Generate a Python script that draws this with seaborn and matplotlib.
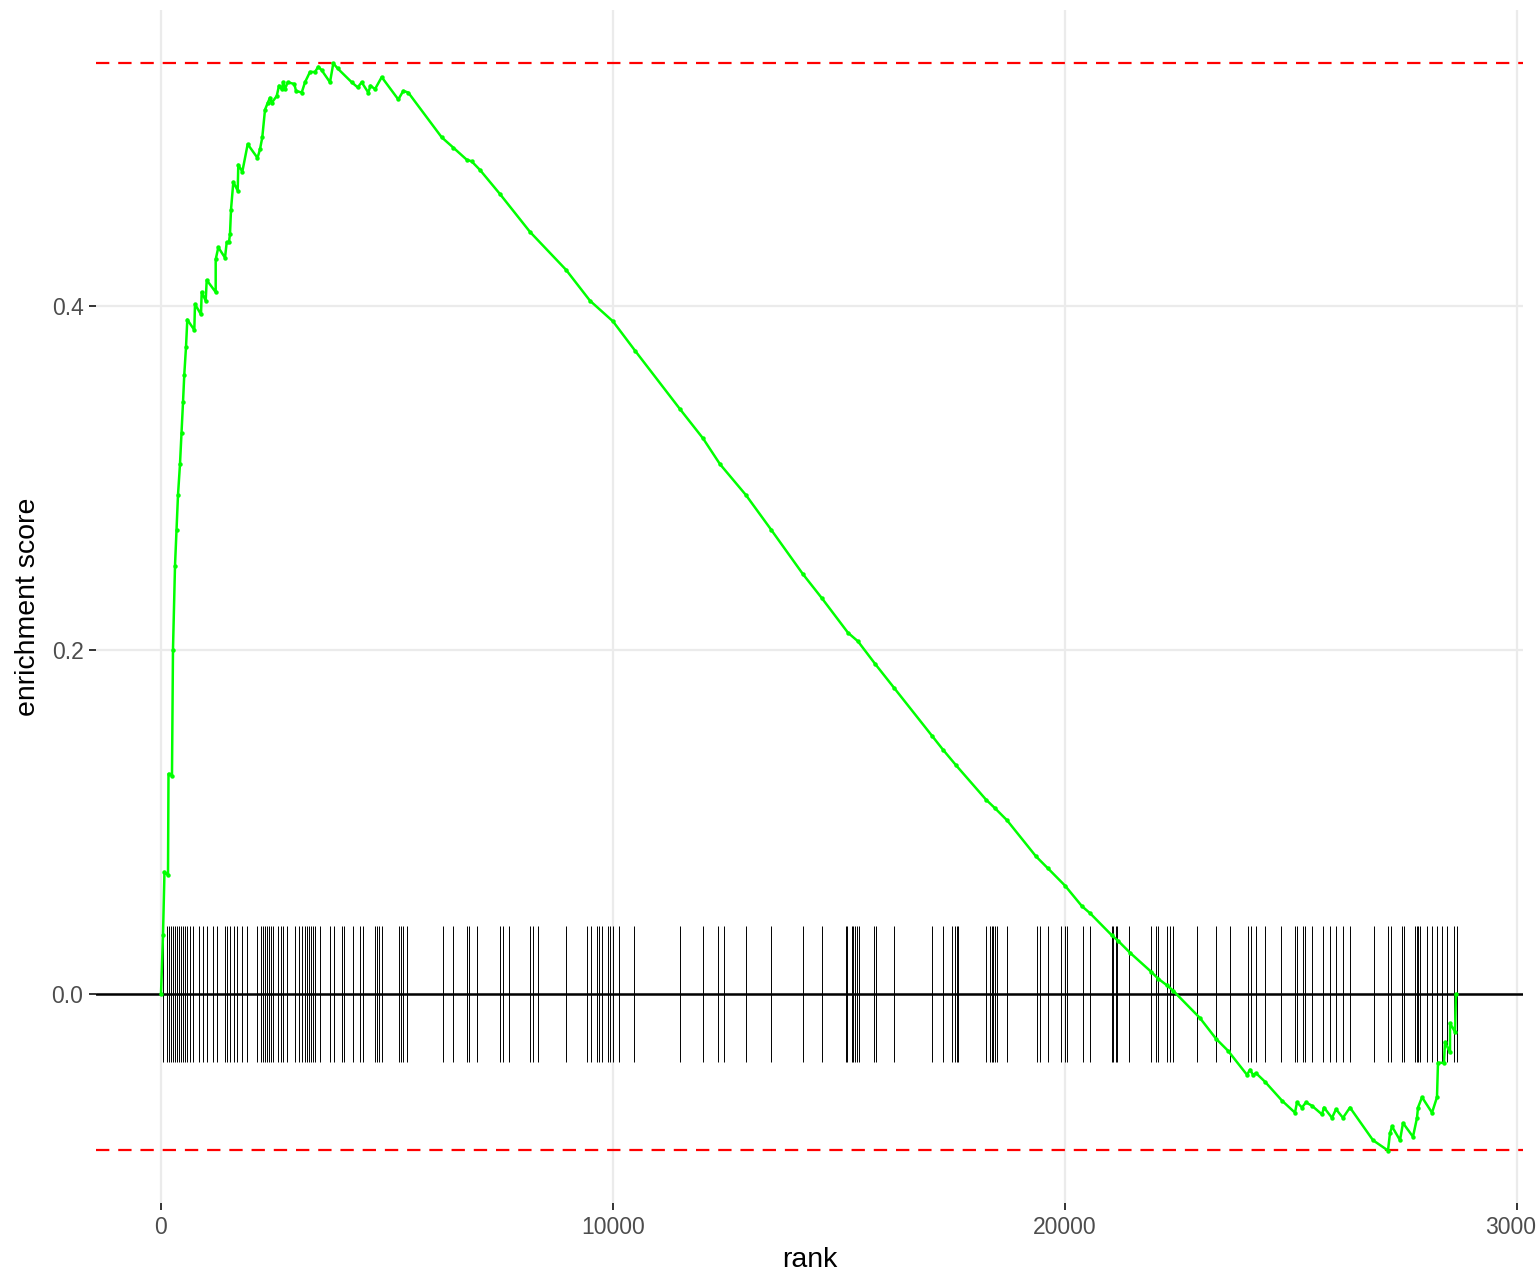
import numpy as np
import pandas as pd
import matplotlib
matplotlib.use("Agg")
import matplotlib.pyplot as plt
import seaborn as sns

# ---- data ----
curve_rank = [0, 44, 77, 155, 166, 243, 265, 310, 343, 376, 420, 454, 487, 515, 553, 582,
              737, 752, 885, 900, 989, 1011, 1210, 1210, 1268, 1416, 1454, 1504, 1527,
              1549, 1600, 1697, 1710, 1799, 1918, 2135, 2190, 2241, 2301, 2361, 2412,
              2449, 2560, 2611, 2670, 2706, 2743, 2803, 2949, 2987, 3113, 3186, 3296,
              3407, 3480, 3555, 3739, 3812, 3909, 4219, 4352, 4440, 4586, 4635, 4735,
              4883, 5250, 5361, 5471, 6210, 6467, 6763, 6874, 7058, 7500, 8164, 8960,
              9491, 10000, 10487, 11482, 11991, 12367, 12942, 13496, 14204, 14624,
              15199, 15420, 15796, 16217, 17058, 17301, 17588, 18252, 18451, 18717,
              19358, 19624, 20000, 20376, 20553, 21040, 21172, 21438, 21903, 22058,
              22257, 22390, 22987, 23341, 23607, 24027, 24093, 24160, 24226, 24425,
              24801, 25088, 25133, 25243, 25332, 25465, 25686, 25730, 25907, 25996,
              26150, 26305, 26814, 27146, 27190, 27235, 27412, 27478, 27699, 27788,
              27810, 27899, 28120, 28230, 28252, 28385, 28407, 28518, 28518, 28628,
              28650]
curve_es = [0.000, 0.034, 0.071, 0.069, 0.128, 0.127, 0.200, 0.249, 0.270, 0.290,
            0.308, 0.326, 0.344, 0.360, 0.376, 0.392, 0.386, 0.401, 0.395, 0.408, 0.403,
            0.415, 0.408, 0.427, 0.434, 0.428, 0.437, 0.437, 0.442, 0.456, 0.472,
            0.467, 0.482, 0.478, 0.494, 0.486, 0.491, 0.498, 0.514, 0.518, 0.521,
            0.518, 0.522, 0.528, 0.526, 0.530, 0.526, 0.530, 0.529, 0.525, 0.524,
            0.530, 0.536, 0.536, 0.539, 0.537, 0.530, 0.541, 0.538, 0.530, 0.527,
            0.530, 0.524, 0.528, 0.526, 0.533, 0.520, 0.525, 0.524, 0.498, 0.492,
            0.485, 0.484, 0.479, 0.465, 0.443, 0.421, 0.403, 0.391, 0.374, 0.340,
            0.323, 0.308, 0.290, 0.270, 0.244, 0.230, 0.210, 0.205, 0.192, 0.178,
            0.150, 0.142, 0.133, 0.113, 0.108, 0.101, 0.080, 0.073, 0.063, 0.051,
            0.047, 0.034, 0.031, 0.024, 0.013, 0.009, 0.005, 0.002, -0.014, -0.026,
            -0.033, -0.047, -0.044, -0.047, -0.046, -0.051, -0.062, -0.069, -0.063,
            -0.066, -0.063, -0.065, -0.070, -0.066, -0.072, -0.067, -0.072, -0.066,
            -0.085, -0.091, -0.081, -0.077, -0.085, -0.075, -0.083, -0.072, -0.066,
            -0.060, -0.069, -0.060, -0.040, -0.040, -0.028, -0.034, -0.017, -0.022,
            0.000]

hit_ranks = [51, 139, 184, 228, 272, 316, 347, 392, 436, 480, 531, 582, 642, 715, 834,
             936, 1011, 1157, 1232, 1416, 1467, 1527, 1615, 1688, 1792, 1896, 2131,
             2206, 2250, 2294, 2339, 2383, 2427, 2485, 2595, 2648, 2706, 2781, 2971,
             3046, 3119, 3179, 3224, 3268, 3312, 3369, 3414, 3518, 3739, 3827, 3998,
             4055, 4254, 4403, 4476,
             4735, 4785, 4830, 4883, 5272, 5316, 5347, 5449, 6232, 6467, 6763, 6821,
             6998, 7500, 7560, 7706, 8164, 8223, 8347, 8960, 9418,
             9513, 9653, 9697, 9750, 9896, 9933, 9993, 10139, 10471, 11482, 11985,
             12330, 12456, 12943, 13497, 14197,
             14631, 15155, 15184, 15281, 15316, 15361, 15392, 15449, 15774, 15818,
             16217, 17051, 17294, 17493, 17573, 17604, 17633, 18252, 18341, 18385,
             18414, 18458, 18502, 18723,
             19374, 19447, 19631, 19905, 20000, 20051, 20392, 20553, 21033, 21069,
             21128, 21157, 21423, 21896, 22013, 22064, 22250, 22323, 22383, 22914,
             23341, 23651, 24055,
             24108, 24226, 24425, 24772, 25089, 25126, 25259, 25310, 25458, 25701,
             25863, 25996, 26157, 26305, 26836, 27153, 27206, 27449, 27500, 27743,
             27781, 27816, 27854, 28002, 28113, 28223, 28334, 28458, 28606, 28666]

es_max = 0.5413
es_min = -0.0907
tick_half = 0.0395

x_ticks = [0, 10000, 20000, 30000]
y_ticks = [0.0, 0.2, 0.4]
y_tick_labels = ["0.0", "0.2", "0.4"]

# ---- plot ----
sns.set_theme(style="whitegrid")
plt.rcParams['font.family'] = ['Liberation Sans', 'DejaVu Sans']

fig = plt.figure(figsize=(15.36, 12.78), dpi=100)
ax = fig.add_axes([96 / 1536, (1278 - 1203) / 1278, (1523 - 96) / 1536, (1203 - 10) / 1278])

df = pd.DataFrame({"rank": curve_rank, "es": curve_es})

ax.vlines(hit_ranks, -tick_half, tick_half, color="black", linewidth=0.7, zorder=2)
ax.axhline(0, color="black", linewidth=1.8, zorder=3)
ax.axhline(es_max, color="red", linestyle=(0, (6, 4)), linewidth=1.6, zorder=3)
ax.axhline(es_min, color="red", linestyle=(0, (6, 4)), linewidth=1.6, zorder=3)

sns.lineplot(data=df, x="rank", y="es", sort=False, estimator=None, ax=ax,
             color="#00FF00", linewidth=1.8, marker="o", markersize=3.2,
             markeredgewidth=0, zorder=4)

ax.set_xlim(-1438, 30133)
ax.set_ylim(-0.1215, 0.572)
ax.set_xticks(x_ticks)
ax.set_xticklabels([str(t) for t in x_ticks])
ax.set_yticks(y_ticks)
ax.set_yticklabels(y_tick_labels)

ax.grid(True, color="#EBEBEB", linewidth=1.6)
ax.set_axisbelow(True)
for s in ax.spines.values():
    s.set_visible(False)
ax.set_facecolor("white")

ax.tick_params(axis="both", which="major", length=5, width=1.4, color="#333333",
               labelsize=16.5, labelcolor="#4D4D4D", pad=4, bottom=True, left=True)
ax.set_xlabel("rank", fontsize=20.5, color="black", labelpad=6)
ax.set_ylabel("enrichment score", fontsize=20.5, color="black", labelpad=8)

fig.savefig("out.png", dpi=100, facecolor="white")
